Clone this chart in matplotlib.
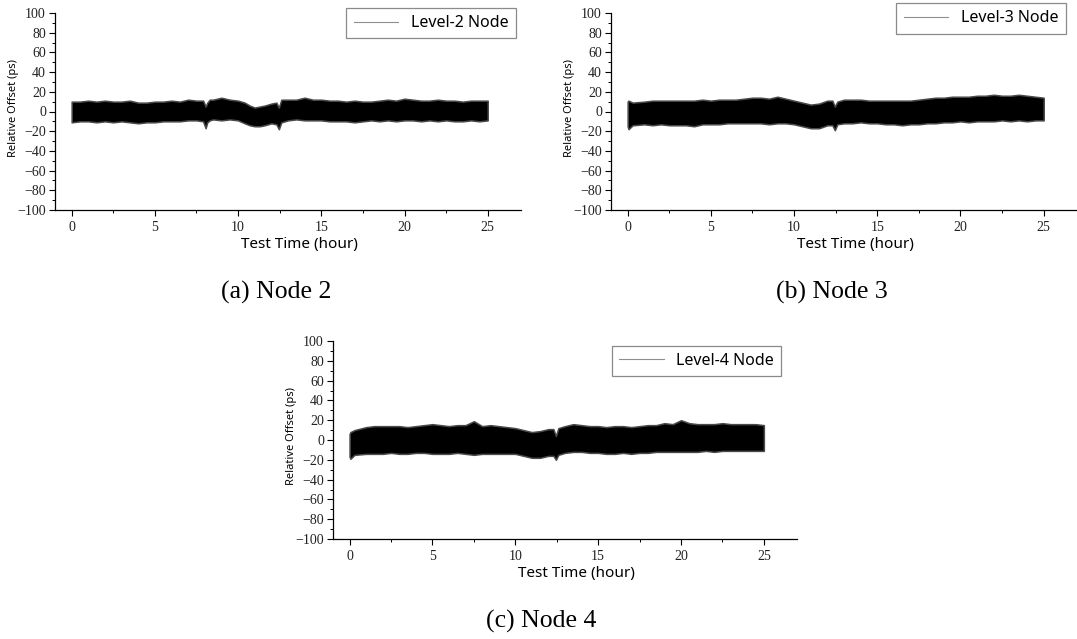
import matplotlib
matplotlib.use("Agg")
import matplotlib.pyplot as plt
from matplotlib.lines import Line2D
from matplotlib.ticker import MultipleLocator

# ---------------- data (envelope of the offset band) ----------------
t_a = [0, 0.5, 1, 1.5, 2, 2.5, 3, 3.5, 4, 4.5, 5, 5.5, 6, 6.5, 7, 7.5, 7.9, 8.05, 8.15, 8.3,
       8.5, 9, 9.5, 10, 10.4, 10.7, 11, 11.3, 11.6, 12, 12.3, 12.45, 12.6, 13, 13.5, 14, 14.5,
       15, 15.5, 16, 16.5, 17, 17.5, 18, 18.5, 19, 19.5, 20, 20.5, 21, 21.5, 22, 22.5, 23, 23.5,
       24, 24.5, 25]
up_a = [10, 10, 11, 10, 11, 10, 10, 11, 9, 9, 10, 10, 11, 10, 12, 11, 11, 5, 9, 12,
        12, 14, 12, 11, 9, 6, 4, 5, 6, 8, 9, 4, 12, 12, 12, 14, 12,
        12, 11, 11, 10, 11, 10, 10, 11, 12, 11, 13, 12, 11, 11, 12, 11, 11, 10,
        11, 11, 11]
lo_a = [-11, -10, -10, -11, -10, -11, -10, -11, -12, -11, -11, -10, -10, -10, -9, -9, -10, -17, -11, -9,
        -8, -9, -8, -9, -12, -14, -15, -15, -14, -12, -13, -18, -11, -9, -8, -9, -9,
        -9, -10, -10, -10, -11, -10, -9, -10, -9, -10, -9, -9, -10, -9, -10, -9, -10, -10,
        -9, -10, -9]

t_bc = [0, 0.05, 0.3, 1, 1.5, 2, 2.5, 3, 3.5, 4, 4.5, 5, 5.5, 6, 6.5, 7, 7.5, 8, 8.5, 9, 9.5,
        10, 10.5, 11, 11.5, 12, 12.3, 12.45, 12.6, 13, 13.5, 14, 14.5, 15, 15.5, 16, 16.5, 17,
        17.5, 18, 18.5, 19, 19.5, 20, 20.5, 21, 21.5, 22, 22.5, 23, 23.5, 24, 24.5, 25]
up_b = [10, 11, 9, 10, 11, 11, 11, 11, 11, 11, 12, 11, 12, 12, 12, 13, 14, 14, 13, 15, 13,
        11, 9, 7, 8, 11, 11, 5, 10, 12, 12, 12, 11, 11, 11, 11, 11, 11,
        12, 13, 14, 14, 15, 15, 15, 16, 16, 17, 16, 16, 17, 16, 15, 14]
lo_b = [-15, -18, -14, -13, -14, -13, -14, -14, -14, -15, -13, -13, -13, -12, -12, -12, -12, -12, -13, -12, -12,
        -13, -15, -17, -17, -14, -14, -19, -13, -12, -12, -11, -12, -12, -13, -13, -14, -13,
        -13, -12, -12, -11, -11, -10, -11, -10, -10, -10, -9, -10, -9, -10, -9, -9]
up_c = [6, 8, 10, 13, 14, 14, 14, 14, 13, 14, 15, 16, 15, 14, 15, 15, 19, 14, 15, 14, 13,
        12, 10, 8, 9, 11, 11, 4, 12, 14, 16, 15, 14, 14, 13, 14, 14, 13,
        14, 15, 15, 17, 16, 20, 17, 16, 16, 16, 17, 16, 16, 16, 16, 15]
lo_c = [-17, -19, -15, -14, -14, -14, -13, -14, -14, -13, -13, -14, -14, -14, -13, -14, -15, -14, -14, -14, -14,
        -14, -16, -18, -18, -16, -16, -20, -15, -13, -12, -12, -13, -13, -14, -14, -13, -14,
        -13, -13, -12, -12, -12, -12, -12, -12, -11, -12, -11, -11, -11, -11, -11, -11]

labels = ["Level-2 Node", "Level-3 Node", "Level-4 Node"]
captions = ["(a) Node 2", "(b) Node 3", "(c) Node 4"]
xlabel = "Test Time (hour)"
ylabel = "Relative Offset (ps)"

SANS = "Noto Sans"
SERIF = "Liberation Serif"

fig = plt.figure(figsize=(10.77, 6.39), dpi=100)

W, H = 1077.0, 639.0
axes_px = [  # left, top, right, bottom in pixels
    (55, 13, 521, 210),
    (611, 13, 1077, 210),
    (333, 341, 797, 539),
]
legend_anchor = [(0.989, 1.025), (0.976, 1.05), (0.966, 0.977)]
caption_pos = [(276, 292), (832, 292), (541, 621)]

series = [(t_a, up_a, lo_a), (t_bc, up_b, lo_b), (t_bc, up_c, lo_c)]

for i, (t, up, lo) in enumerate(series):
    l, tp, r, b = axes_px[i]
    ax = fig.add_axes([l / W, 1 - b / H, (r - l) / W, (b - tp) / H])
    ax.fill_between(t, lo, up, facecolor="black", edgecolor="#4a4a4a", linewidth=1.1)
    ax.set_xlim(-1, 27)
    ax.set_ylim(-100, 100)
    ax.xaxis.set_major_locator(MultipleLocator(5))
    ax.xaxis.set_minor_locator(MultipleLocator(2.5))
    ax.yaxis.set_major_locator(MultipleLocator(20))
    ax.yaxis.set_minor_locator(MultipleLocator(10))
    for s in ("top", "right"):
        ax.spines[s].set_visible(False)
    for s in ("left", "bottom"):
        ax.spines[s].set_linewidth(0.9)
    ax.tick_params(which="major", direction="out", length=4, width=0.8, pad=2.5,
                   labelsize=10, colors="black", labelfontfamily=SERIF,
                   labelcolor="#222222")
    ax.tick_params(which="minor", direction="out", length=2, width=0.7)
    ax.tick_params(axis="x", which="major", pad=4)
    ax.set_xlabel(xlabel, fontsize=11, family=SANS)
    ax.xaxis.set_label_coords(0.524, -0.135)
    ax.set_ylabel(ylabel, fontsize=8, family=SANS)
    ax.yaxis.set_label_coords(-0.077, 0.52)
    handle = Line2D([], [], color="#8f8f8f", linewidth=0.8, label=labels[i])
    leg = ax.legend(handles=[handle], loc="upper right", bbox_to_anchor=legend_anchor[i],
                    frameon=True, fancybox=False, framealpha=1, edgecolor="#8a8a8a",
                    borderaxespad=0, borderpad=0.45, handlelength=2.8, handletextpad=0.8,
                    prop={"family": SANS, "size": 11.5})
    leg.get_frame().set_linewidth(0.9)
    cx, cy = caption_pos[i]
    fig.text(cx / W, 1 - cy / H, captions[i], ha="center", va="center",
             fontsize=18.5, family=SERIF)

fig.savefig("out.png", dpi=100)
